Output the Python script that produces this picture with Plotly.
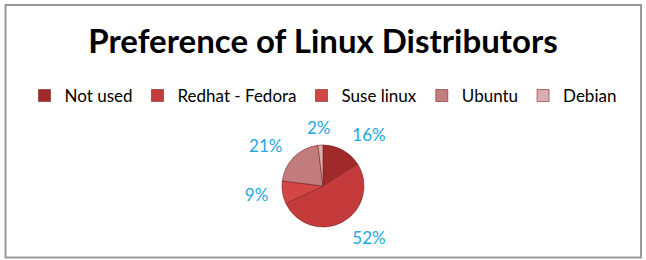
import math
import plotly.graph_objects as go

labels = ["Not used", "Redhat - Fedora", "Suse linux", "Ubuntu", "Debian"]
values = [16, 52, 9, 21, 2]
colors = ["#A0292A", "#C53A3A", "#D44646", "#C27C7E", "#D9AEAF"]

W, H = 646, 260
cx, cy, r = 323, 186, 41
r_lab = 50  # radius of the invisible pie that carries the percentage labels
LABEL_FONT = dict(family="Lato", size=17, color="#22A9E0")

total = sum(values)
pct = [f"{round(v / total * 100)}%" for v in values]
small = [v / total < 0.05 for v in values]  # tiny slices get a plain radial label


def dom(rad):
    return dict(x=[(cx - rad) / W, (cx + rad) / W],
                y=[(H - cy - rad) / H, (H - cy + rad) / H])


fig = go.Figure()
fig.add_trace(go.Pie(
    labels=labels, values=values, sort=False, direction="clockwise", rotation=0,
    marker=dict(colors=colors, line=dict(color="#7A2222", width=0.6)),
    textinfo="none", domain=dom(r), hoverinfo="label+percent",
))
fig.add_trace(go.Pie(
    labels=labels, values=values, sort=False, direction="clockwise", rotation=0,
    marker=dict(colors=["rgba(0,0,0,0)"] * len(values), line=dict(width=0)),
    text=["" if s else p for p, s in zip(pct, small)],
    textinfo="text", textposition="outside", textfont=LABEL_FONT,
    domain=dom(r_lab), showlegend=False, hoverinfo="skip",
))

# radial labels for the tiny slices, placed from their mid-angle
annotations = []
cum = 0
for v, p, s in zip(values, pct, small):
    mid = 2 * math.pi * (cum + v / 2) / total
    cum += v
    if s:
        R = r_lab + 9
        annotations.append(dict(
            x=(cx + R * math.sin(mid)) / W, y=(H - cy + R * math.cos(mid)) / H,
            xref="paper", yref="paper", text=p, showarrow=False,
            xanchor="center", yanchor="middle", font=LABEL_FONT))

fig.update_layout(
    width=W, height=H, margin=dict(l=0, r=0, t=0, b=0),
    paper_bgcolor="white", plot_bgcolor="white",
    title=dict(text="<b>Preference of Linux Distributors</b>", x=0.5, xanchor="center",
               y=1 - 41 / H, yanchor="middle",
               font=dict(family="Lato", size=33, color="black")),
    legend=dict(orientation="h", x=0.5, xanchor="center", y=1 - 96 / H, yanchor="middle",
                font=dict(family="Lato", size=17, color="black"),
                itemwidth=30, tracegroupgap=0),
    annotations=annotations,
    shapes=[dict(type="rect", xref="paper", yref="paper",
                 x0=5.5 / W, x1=641 / W, y0=2.5 / H, y1=1 - 5 / H,
                 line=dict(color="#999999", width=2))],
)

fig.write_html("out.html")
